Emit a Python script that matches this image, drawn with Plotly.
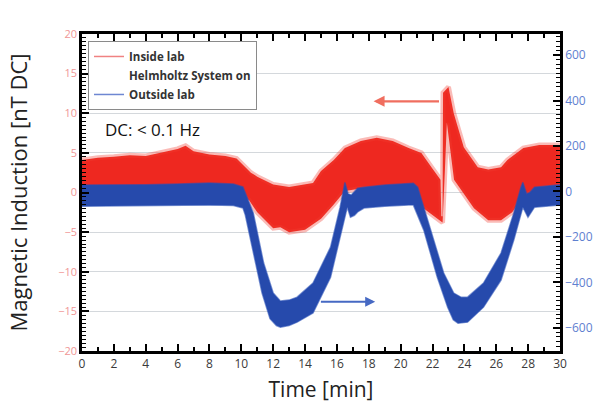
import plotly.graph_objects as go

# ---------------- data ----------------
# Inside lab (left axis, nT) : upper / lower envelope of the noisy band
inside_t_upper = [0, 1, 2, 3, 4, 5, 6, 6.5, 7, 8, 9, 9.7, 10.3, 10.6, 11, 12, 13, 14, 14.5, 15,
                  15.8, 16.5, 17.5, 18.5, 19.5, 20.5, 21.3, 22.0, 22.5, 22.55, 22.63, 22.66,
                  23.0, 23.33, 23.96, 24.84, 25.5, 26.3, 26.7, 27.7, 28.7, 30]
inside_upper = [4.1, 4.4, 4.5, 4.7, 4.6, 5.0, 5.5, 5.9, 5.2, 4.8, 4.6, 4.3, 3.1, 2.5, 2.0, 1.0, 0.7, 1.0, 1.2, 2.7,
                4.1, 5.6, 6.5, 6.9, 6.5, 5.6, 5.0, 3.0, 1.6, -3.0, -3.0, 12.6,
                13.3, 10.0, 5.7, 3.2, 2.9, 3.2, 4.1, 5.6, 6.0, 6.0]
inside_t_lower = [0, 5, 9.7, 10.5, 11, 12, 12.45, 13, 14, 15, 15.8, 16.5, 17.5, 19.4, 20.5, 21.3, 22.0,
                  22.5, 22.63, 22.7, 22.78, 22.9, 23.05, 23.35, 24.6, 25.5, 26.3, 27.0, 27.7, 28.7, 30]
inside_lower = [-0.3, 0.0, 0.2, -1.0, -2.5, -4.5, -4.4, -5.0, -4.7, -3.3, -1.5, 0.2, 0.5, 0.5, 0.0, -1.8, -2.8,
                -3.6, -3.8, -2.2, 3.0, 8.8, 5.7, 1.6, -2.0, -3.5, -3.5, -2.5, -0.5, 0.5, 0.8]

# Outside lab (right axis, nT)
outside_t_upper = [0, 2, 4, 6, 8, 9.5, 10.1, 10.75, 11.4, 12.0, 12.45, 13.0, 13.5, 14.5, 15.6, 16.2, 16.5,
                   16.7, 16.9, 17.3, 17.7, 19, 20.5, 20.8, 21.07, 21.9, 22.7, 23.33, 23.8, 24.2, 25.2,
                   26.3, 27.1, 27.55, 27.67, 27.9, 28.1, 28.4, 30]
outside_upper = [28, 28, 30, 33, 37, 33, 20, -95, -315, -447, -482, -478, -465, -403, -245, -69, 40,
                 -10, -16, 14, 19, 28, 33, 36, 19, -170, -359, -447, -466, -465, -403,
                 -271, -95, 19, 40, -10, -5, 19, 30]
outside_t_lower = [0, 2, 4, 6, 8, 9.5, 10.1, 10.25, 10.9, 11.3, 11.8, 12.2, 12.45, 13.0, 13.5, 14.5, 15.6,
                   16.2, 16.65, 16.85, 17.1, 17.3, 17.7, 19, 20.5, 20.8, 21.45, 22.3, 22.95, 23.3, 23.6,
                   24.2, 25.2, 26.3, 27.1, 27.67, 27.99, 28.4, 30]
outside_lower = [-65, -65, -63, -62, -60, -62, -73, -104, -315, -447, -560, -590, -597, -590, -575, -535,
                 -377, -201, -69, -113, -105, -90, -73, -65, -60, -60, -170, -377, -509, -565, -580,
                 -575, -509, -390, -214, -69, -113, -69, -60]

x_tick_vals = list(range(0, 31, 2))
left_tick_vals = [-20, -15, -10, -5, 0, 5, 10, 15, 20]
right_tick_vals = [-600, -400, -200, 0, 200, 400, 600]

RED = "rgb(238,40,32)"
BLUE = "rgb(38,74,172)"

fig = go.Figure()

# Inside lab band (left axis): soft halo edge + core
fig.add_trace(go.Scatter(
    x=inside_t_upper + inside_t_lower[::-1],
    y=inside_upper + inside_lower[::-1],
    fill="toself", fillcolor=RED, mode="lines",
    line=dict(color="rgba(240,60,50,0.35)", width=5),
    showlegend=False, hoverinfo="skip", yaxis="y"))

# Outside lab band (right axis)
fig.add_trace(go.Scatter(
    x=outside_t_upper + outside_t_lower[::-1],
    y=outside_upper + outside_lower[::-1],
    fill="toself", fillcolor=BLUE, mode="lines",
    line=dict(color="rgba(40,78,180,0.6)", width=1.5),
    showlegend=False, hoverinfo="skip", yaxis="y2"))

# legend entries
fig.add_trace(go.Scatter(x=[None], y=[None], mode="lines", name="Inside lab",
                         line=dict(color="rgb(240,130,130)", width=1.5)))
fig.add_trace(go.Scatter(x=[None], y=[None], mode="lines", name="Helmholtz System on",
                         line=dict(color="rgba(255,255,255,0)", width=1.5)))
fig.add_trace(go.Scatter(x=[None], y=[None], mode="lines", name="Outside lab",
                         line=dict(color="rgb(110,135,210)", width=1.5)))

fig.update_layout(
    template="none",
    width=603, height=403,
    margin=dict(l=82, r=43, t=34, b=52),
    xaxis=dict(range=[x_tick_vals[0], x_tick_vals[-1]], tick0=x_tick_vals[0],
               dtick=x_tick_vals[1] - x_tick_vals[0],
               ticks="inside", ticklen=7, tickwidth=2.2, tickcolor="black",
               showline=True, linecolor="black", linewidth=2.5, mirror="ticks",
               showgrid=False, zeroline=False,
               tickfont=dict(family="Open Sans", size=12, color="#3a3a3a"),
               minor=dict(dtick=1, ticks="inside", ticklen=4, tickwidth=2, tickcolor="black"),
               title=dict(text="Time [min]", font=dict(family="Open Sans", size=21, color="#222"))),
    yaxis=dict(range=[left_tick_vals[0], left_tick_vals[-1]], tick0=0,
               dtick=left_tick_vals[1] - left_tick_vals[0],
               ticks="inside", ticklen=7, tickwidth=2.2, tickcolor="black",
               showline=True, linecolor="black", linewidth=2.5,
               showgrid=True, gridcolor="#d4d8dc", gridwidth=1, zeroline=False,
               tickfont=dict(family="Open Sans", size=11, color="rgb(240,150,150)"),
               minor=dict(dtick=0.5, ticks="inside", ticklen=4, tickwidth=1.2, tickcolor="black"),
               title=dict(text="Magnetic Induction [nT DC]",
                          font=dict(family="Open Sans", size=22, color="#222"))),
    yaxis2=dict(range=[-702, 693], tick0=0, dtick=right_tick_vals[1] - right_tick_vals[0],
                overlaying="y", side="right",
                ticks="inside", ticklen=7, tickwidth=2.2, tickcolor="black",
                showline=True, linecolor="black", linewidth=2.5, showgrid=False, zeroline=False,
                tickfont=dict(family="Open Sans", size=12, color="rgb(95,128,208)"),
                minor=dict(dtick=20, ticks="inside", ticklen=4, tickwidth=1.2, tickcolor="black")),
    legend=dict(x=0.0126, y=0.978, xanchor="left", yanchor="top",
                bgcolor="white", bordercolor="#8a8a8a", borderwidth=1,
                font=dict(family="Open Sans", size=11.5, color="#333", weight="bold")),
    showlegend=True,
)

fig.add_annotation(x=1.3, y=7.9, xref="x", yref="y", text="DC: &lt; 0.1 Hz", showarrow=False,
                   xanchor="left", yanchor="middle",
                   font=dict(family="Open Sans", size=17, color="#111"))

# red arrow (points to left axis)
fig.add_annotation(x=18.3, y=11.5, ax=22.5, ay=11.5, xref="x", yref="y", axref="x", ayref="y",
                   text="", showarrow=True, arrowhead=2, arrowsize=1, arrowwidth=2.2,
                   arrowcolor="rgb(240,110,95)")
# blue arrow (points to right axis)
fig.add_annotation(x=18.4, y=-13.8, ax=14.9, ay=-13.8, xref="x", yref="y", axref="x", ayref="y",
                   text="", showarrow=True, arrowhead=2, arrowsize=1, arrowwidth=2,
                   arrowcolor="rgb(70,105,195)")

fig.write_html("out.html")
